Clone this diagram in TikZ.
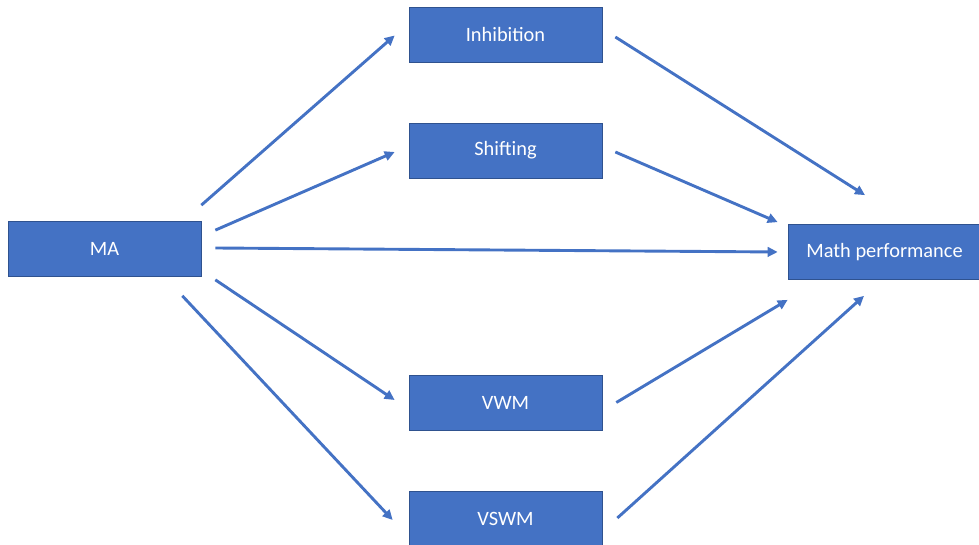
\documentclass[tikz,border=0pt]{standalone}
\usepackage{fontspec}
\setmainfont{Carlito}
\usetikzlibrary{arrows.meta}
\definecolor{boxblue}{HTML}{4472C4}
\definecolor{boxedge}{HTML}{2F528F}
\begin{document}
\begin{tikzpicture}[x=0.02cm, y=0.02cm,
    var/.style={draw=boxedge, line width=0.4pt, fill=boxblue, text=white,
        minimum width=3.86cm, minimum height=1.1cm, inner sep=0pt,
        font=\fontsize{11.6}{14}\selectfont},
    path/.style={draw=boxblue, line width=0.058cm,
        -{Triangle[length=0.2cm, width=0.19cm]}}]
    \useasboundingbox (0,0) rectangle (979,544);

    \node[var] (ma) at (104.5,295) {MA};
    \node[var] (inh) at (505.5,509.5) {Inhibition};
    \node[var] (shift) at (505.5,393.5) {Shifting};
    \node[var] (vwm) at (505.5,141.5) {VWM};
    \node[var] (vswm) at (505.5,25.5) {VSWM};
    \node[var] (math) at (884.5,292) {Math performance};

    % MA to the mediators and the outcome
    \draw[path] ([shift={(0,16)}]ma.north east) -- ([shift={(-14,-1)}]inh.west);
    \draw[path] ([shift={(14,-9)}]ma.north east) -- ([shift={(-14,-1.5)}]shift.west);
    \draw[path] ([shift={(14,1)}]ma.east) -- ([shift={(-10,0)}]math.west);
    \draw[path] ([shift={(14,-3)}]ma.south east) -- ([shift={(-14,2.5)}]vwm.west);
    \draw[path] ([shift={(-19,-19)}]ma.south east) -- ([shift={(-16,-1.5)}]vswm.west);

    % mediators to the outcome
    \draw[path] ([shift={(13,-2.5)}]inh.east) -- ([shift={(-19.5,29)}]math.north);
    \draw[path] ([shift={(13,-1.5)}]shift.east) -- ([shift={(-10,2)}]math.north west);
    \draw[path] ([shift={(14,0)}]vwm.east) -- ([shift={(0,-20)}]math.south west);
    \draw[path] ([shift={(15,0.5)}]vswm.east) -- ([shift={(-20.5,-16)}]math.south);
\end{tikzpicture}
\end{document}
